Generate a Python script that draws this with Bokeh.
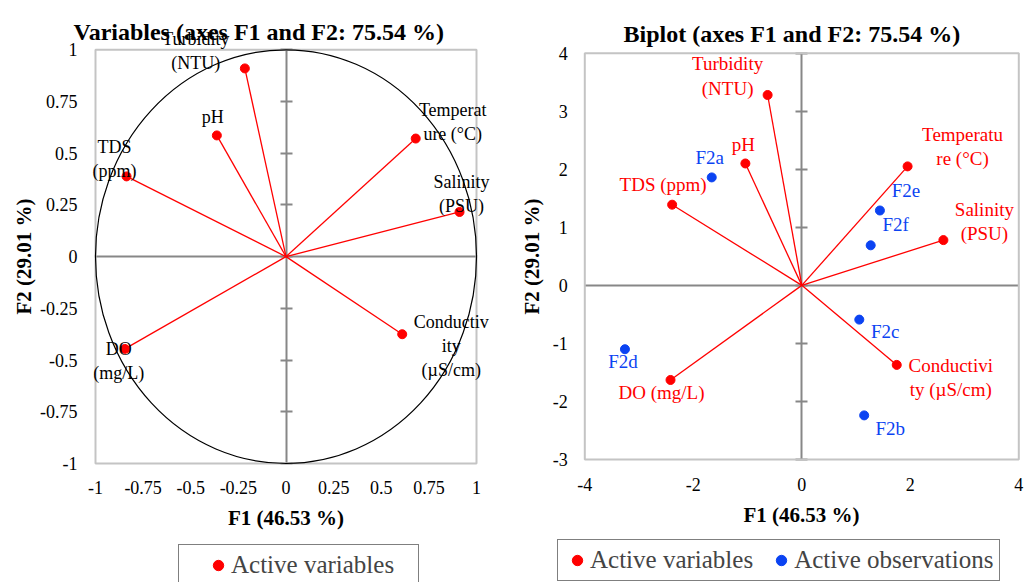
from bokeh.plotting import figure
from bokeh.models import (LinearAxis, FixedTicker, Legend, LegendItem, Range1d, Label)
from bokeh.layouts import row
from bokeh.embed import file_html
from bokeh.resources import INLINE
from bokeh.core.properties import value

# ---------------- data ----------------
var_labels = ["Turbidity\n(NTU)", "pH", "TDS\n(ppm)", "Temperat\nure (°C)",
              "Salinity\n(PSU)", "Conductiv\nity\n(µS/cm)", "DO\n(mg/L)"]
var_f1 = [-0.216, -0.363, -0.837, 0.681, 0.911, 0.610, -0.846]
var_f2 = [0.910, 0.586, 0.388, 0.571, 0.216, -0.375, -0.446]

bi_labels = ["Turbidity\n(NTU)", "pH", "TDS (ppm)", "Temperatu\nre (°C)",
             "Salinity\n(PSU)", "Conductivi\nty (µS/cm)", "DO (mg/L)"]
bi_var_f1 = [-0.63, -1.04, -2.39, 1.95, 2.61, 1.75, -2.42]
bi_var_f2 = [3.28, 2.10, 1.39, 2.05, 0.78, -1.37, -1.63]

obs_labels = ["F2a", "F2b", "F2c", "F2d", "F2e", "F2f"]
obs_f1 = [-1.66, 1.15, 1.06, -3.26, 1.44, 1.27]
obs_f2 = [1.86, -2.24, -0.59, -1.10, 1.29, 0.69]

left_ticks = [-1, -0.75, -0.5, -0.25, 0, 0.25, 0.5, 0.75, 1]
left_tick_labels = ["-1", "-0.75", "-0.5", "-0.25", "0", "0.25", "0.5", "0.75", "1"]
right_xticks = [-4, -2, 0, 2, 4]
right_xtick_labels = ["-4", "-2", "0", "2", "4"]
right_yticks = [-3, -2, -1, 0, 1, 2, 3, 4]
right_ytick_labels = ["-3", "-2", "-1", "0", "1", "2", "3", "4"]

left_title = "Variables (axes F1 and F2: 75.54 %)"
right_title = "Biplot (axes F1 and F2: 75.54 %)"
x_title = "F1 (46.53 %)"
y_title = "F2 (29.01 %)"

# ---------------- styles / layout ----------------
SERIF = "Liberation Serif"
RED = "#FF0000"
BLUE = "#0B43F2"
AXIS_GRAY = "#878787"
FRAME_GRAY = "#C4C4C4"
H = 582
W1, W2 = 505, 521

# label offsets (pixels)
var_dx = [-49, -4, -12, 37, 2, 49, -6]
var_dy = [-17, -18, -17, -17, -18, 12, 12]
bi_dx = [-40, -2, -9, 55, 41, 54, -9]
bi_dy = [-19, -19, -20, -20, -19, 13, 13]
obs_dx = [-2, 26, 26, -2, 26, 25]
obs_dy = [-20, 13, 12, 12, -20, -21]


def pix_range(lo, hi, px_lo, px_hi, total):
    per = (px_hi - px_lo) / (hi - lo)
    return Range1d(lo - px_lo / per, hi + (total - px_hi) / per)


def build(width, xlo, xhi, ylo, yhi, fx0, fx1, fy0, fy1, xticks, xlabels, yticks, ylabels,
          ylab_standoff, ytitle_standoff, xlab_standoff, xtitle_standoff):
    p = figure(width=width, height=H, output_backend="svg", toolbar_location=None,
               x_range=pix_range(xlo, xhi, fx0, fx1, width),
               y_range=pix_range(ylo, yhi, H - fy1, H - fy0, H),
               x_axis_location=None, y_axis_location=None, min_border=0)
    p.grid.visible = False
    p.outline_line_color = None
    p.background_fill_color = "white"
    p.border_fill_color = "white"

    # plot-area box
    p.quad(left=[xlo], right=[xhi], bottom=[ylo], top=[yhi],
           fill_color=None, line_color=FRAME_GRAY, line_width=2)

    # tick-label axes on the box edges
    yax = LinearAxis(fixed_location=xlo, bounds=(ylo, yhi), ticker=FixedTicker(ticks=yticks),
                     major_label_overrides=dict(zip(yticks, ylabels)),
                     axis_line_color=None, major_tick_line_color=None, minor_tick_line_color=None,
                     major_tick_in=0, major_tick_out=0, major_label_standoff=ylab_standoff,
                     major_label_text_font=SERIF, major_label_text_font_size="18px",
                     major_label_text_color="black",
                     axis_label=y_title, axis_label_standoff=ytitle_standoff,
                     axis_label_text_font=SERIF, axis_label_text_font_size="21px",
                     axis_label_text_font_style="bold", axis_label_text_color="black")
    xax = LinearAxis(fixed_location=ylo, bounds=(xlo, xhi), ticker=FixedTicker(ticks=xticks),
                     major_label_overrides=dict(zip(xticks, xlabels)),
                     axis_line_color=None, major_tick_line_color=None, minor_tick_line_color=None,
                     major_tick_in=0, major_tick_out=0, major_label_standoff=xlab_standoff,
                     major_label_text_font=SERIF, major_label_text_font_size="18px",
                     major_label_text_color="black",
                     axis_label=x_title, axis_label_standoff=xtitle_standoff,
                     axis_label_text_font=SERIF, axis_label_text_font_size="21px",
                     axis_label_text_font_style="bold", axis_label_text_color="black")
    p.add_layout(yax, "left")
    p.add_layout(xax, "below")

    # central axes crossing at zero (unlabelled: cross ticks drawn as minor ticks)
    vaxis = LinearAxis(fixed_location=0, bounds=(ylo, yhi),
                       ticker=FixedTicker(ticks=[], minor_ticks=yticks),
                       axis_line_color=AXIS_GRAY, axis_line_width=2,
                       major_tick_line_color=None,
                       minor_tick_line_color=AXIS_GRAY, minor_tick_line_width=2,
                       minor_tick_in=6, minor_tick_out=6, level="underlay")
    haxis = LinearAxis(fixed_location=0, bounds=(xlo, xhi),
                       ticker=FixedTicker(ticks=[], minor_ticks=[]),
                       axis_line_color=AXIS_GRAY, axis_line_width=2,
                       major_tick_line_color=None, minor_tick_line_color=None,
                       level="underlay")
    p.add_layout(vaxis, "left")
    p.add_layout(haxis, "below")
    return p


def title_label(p, text, x, baseline_from_top):
    p.add_layout(Label(x=x, y=H - baseline_from_top, x_units="screen", y_units="screen",
                       text=text, text_font=SERIF, text_font_size="24px",
                       text_font_style="bold", text_color="black",
                       text_align="left", text_baseline="alphabetic"))


def make_legend(items, location, spacing, label_width, title=None, title_standoff=0):
    return Legend(items=items, location=location, orientation="horizontal",
                  title=title, title_location="left", title_text_font_size="10px",
                  title_standoff=title_standoff,
                  border_line_color="black", border_line_width=1,
                  background_fill_color="white", background_fill_alpha=1,
                  label_text_font=SERIF, label_text_font_size="25px",
                  padding=6, spacing=spacing, glyph_width=26, glyph_height=26,
                  label_height=26, label_standoff=0, label_width=label_width, margin=0)


# ---------------- left: variables ----------------
p1 = build(W1, -1, 1, -1, 1, 95, 476, 49.3, 463, left_ticks, left_tick_labels,
           left_ticks, left_tick_labels, 18, 1, 17, 9)
title_label(p1, left_title, 73, 31.7)

p1.ellipse(x=0, y=0, width=2, height=2, fill_color=None, line_color="black", line_width=1.2)
p1.segment(x0=[0] * len(var_f1), y0=[0] * len(var_f2), x1=var_f1, y1=var_f2,
           line_color=RED, line_width=1.3)
r_var1 = p1.scatter(var_f1, var_f2, size=9, color=RED)
p1.text(var_f1, var_f2, text=var_labels, x_offset=var_dx, y_offset=var_dy,
        text_align="center", text_baseline="middle", text_font=value(SERIF),
        text_font_size="18px", text_color="black", text_line_height=1.2)

p1.add_layout(make_legend([LegendItem(label="Active variables", renderers=[r_var1])],
                          (178, -4), 3, 181, title=" ", title_standoff=9))

# ---------------- right: biplot ----------------
p2 = build(W2, -4, 4, -3, 4, 79.3, 513.3, 52.7, 459, right_xticks, right_xtick_labels,
           right_yticks, right_ytick_labels, 17, 6, 18, 9)
title_label(p2, right_title, 118, 33.3)

p2.segment(x0=[0] * len(bi_var_f1), y0=[0] * len(bi_var_f2), x1=bi_var_f1, y1=bi_var_f2,
           line_color=RED, line_width=1.3)
r_var2 = p2.scatter(bi_var_f1, bi_var_f2, size=9, color=RED)
r_obs2 = p2.scatter(obs_f1, obs_f2, size=9, color=BLUE)
p2.text(bi_var_f1, bi_var_f2, text=bi_labels, x_offset=bi_dx, y_offset=bi_dy,
        text_align="center", text_baseline="middle", text_font=value(SERIF),
        text_font_size="19px", text_color=RED, text_line_height=1.15)
p2.text(obs_f1, obs_f2, text=obs_labels, x_offset=obs_dx, y_offset=obs_dy,
        text_align="center", text_baseline="middle", text_font=value(SERIF),
        text_font_size="19px", text_color=BLUE)

p2.add_layout(make_legend([LegendItem(label="Active variables", renderers=[r_var2]),
                           LegendItem(label="Active observations", renderers=[r_obs2])],
                          (52, 1), 15, 0))

layout = row(p1, p2)
open("out.html", "w").write(file_html(layout, INLINE))
